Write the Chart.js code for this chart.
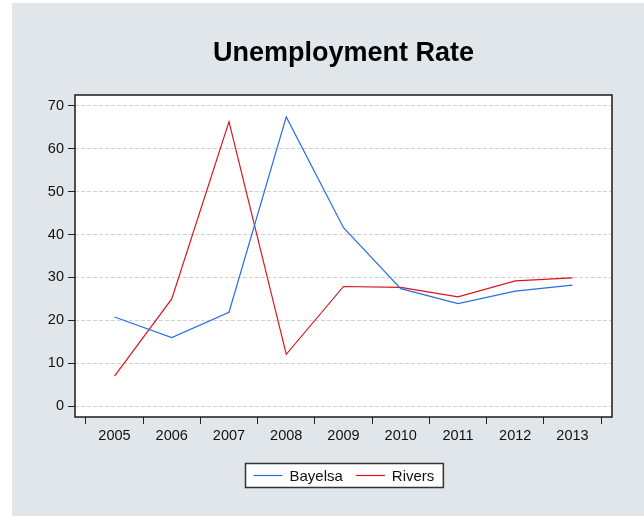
<!DOCTYPE html>
<html>
<head>
<meta charset="utf-8">
<script src="https://cdn.jsdelivr.net/npm/chart.js@4/dist/chart.umd.min.js"></script>
<style>
  body { margin: 0; background: #ffffff; }
  #panel { position: absolute; left: 12px; top: 3px; width: 632px; height: 513px; background: #e1e6ea; }
</style>
</head>
<body>
<div id="panel"><canvas id="myChart" width="632" height="513"></canvas></div>
<script>
const years = [2005, 2006, 2007, 2008, 2009, 2010, 2011, 2012, 2013];
const bayelsa = [20.8, 16.0, 21.9, 67.4, 41.6, 27.4, 23.9, 26.8, 28.2];
const rivers = [7.0, 25.0, 66.3, 12.1, 27.9, 27.7, 25.5, 29.2, 29.9];
const yTicks = [0, 10, 20, 30, 40, 50, 60, 70];

const toPoints = (vals) => years.map((y, i) => ({ x: y, y: vals[i] }));

// white plot area, title, frame round the plot and the boxed legend
const decor = {
  id: 'decor',
  beforeDraw(chart) {
    const a = chart.chartArea;
    chart.ctx.save();
    chart.ctx.fillStyle = '#fff';
    chart.ctx.fillRect(a.left, a.top, a.right - a.left, a.bottom - a.top);
    chart.ctx.restore();
  },
  afterDraw(chart) {
    const ctx = chart.ctx;
    const a = chart.chartArea;
    const cx = (a.left + a.right) / 2;
    ctx.save();

    ctx.fillStyle = '#000';
    ctx.font = 'bold 27px "Liberation Sans", Arial, sans-serif';
    ctx.textAlign = 'center';
    ctx.textBaseline = 'alphabetic';
    ctx.fillText('Unemployment Rate', cx, 58);

    ctx.strokeStyle = '#1a1a1a';
    ctx.lineWidth = 1.5;
    ctx.strokeRect(a.left, a.top, a.right - a.left, a.bottom - a.top);

    ctx.font = '15px "Liberation Sans", Arial, sans-serif';
    ctx.textAlign = 'left';
    ctx.textBaseline = 'middle';
    const items = chart.data.datasets;
    const widths = items.map(d => ctx.measureText(d.label).width);
    let total = 8 + 9;
    widths.forEach((w, i) => { total += 29 + 7 + w + (i > 0 ? 13 : 0); });
    const bx = Math.round(cx - total / 2) + 0.5;
    const by = 460.5;
    const bh = 24;
    ctx.fillStyle = '#fff';
    ctx.fillRect(bx, by, total, bh);
    ctx.strokeStyle = '#333';
    ctx.lineWidth = 1.5;
    ctx.strokeRect(bx, by, total, bh);
    let x = bx + 8;
    const my = by + bh / 2;
    items.forEach((d, i) => {
      if (i > 0) x += 13;
      ctx.strokeStyle = d.borderColor;
      ctx.lineWidth = 1.2;
      ctx.beginPath();
      ctx.moveTo(x, my);
      ctx.lineTo(x + 29, my);
      ctx.stroke();
      x += 29 + 7;
      ctx.fillStyle = '#111';
      ctx.fillText(d.label, x, my + 1);
      x += widths[i];
    });
    ctx.restore();
  }
};

new Chart(document.getElementById('myChart').getContext('2d'), {
  type: 'line',
  data: {
    datasets: [
      {
        label: 'Bayelsa',
        data: toPoints(bayelsa),
        borderColor: '#2a6de2',
        borderWidth: 1.2,
        pointRadius: 0,
        tension: 0,
      },
      {
        label: 'Rivers',
        data: toPoints(rivers),
        borderColor: '#d8141c',
        borderWidth: 1.2,
        pointRadius: 0,
        tension: 0,
      },
    ],
  },
  options: {
    responsive: false,
    animation: false,
    layout: { padding: { top: 92, right: 32, left: 0, bottom: 0 } },
    plugins: {
      legend: { display: false },
      title: { display: false },
      tooltip: { enabled: false },
    },
    scales: {
      x: {
        type: 'linear',
        min: 2004.31,
        max: 2013.69,
        afterBuildTicks(scale) {
          const t = [];
          years.forEach(y => { t.push({ value: y - 0.5 }); t.push({ value: y }); });
          t.push({ value: years[years.length - 1] + 0.5 });
          scale.ticks = t;
        },
        afterFit(scale) { scale.height = 99; },
        border: { display: false },
        grid: {
          drawOnChartArea: false,
          tickLength: 7,
          tickWidth: 1,
          tickColor: (c) => (c.tick && Number.isInteger(c.tick.value) ? 'rgba(0,0,0,0)' : '#222'),
        },
        ticks: {
          autoSkip: false,
          maxRotation: 0,
          padding: 3,
          color: '#111',
          font: { family: '"Liberation Sans", Arial, sans-serif', size: 14.5 },
          callback: (v) => (Number.isInteger(v) ? String(v) : ''),
        },
      },
      y: {
        min: -2.5,
        max: 72.5,
        afterBuildTicks(scale) {
          scale.ticks = yTicks.map(v => ({ value: v }));
        },
        afterFit(scale) { scale.width = 63; },
        border: { display: false, dash: [4, 2] },
        grid: {
          color: '#d0d0d0',
          lineWidth: 1,
          tickLength: 7,
          tickColor: '#222',
          tickBorderDash: [],
        },
        ticks: {
          padding: 4,
          color: '#111',
          font: { family: '"Liberation Sans", Arial, sans-serif', size: 14.5 },
        },
      },
    },
  },
  plugins: [decor],
});
</script>
</body>
</html>
